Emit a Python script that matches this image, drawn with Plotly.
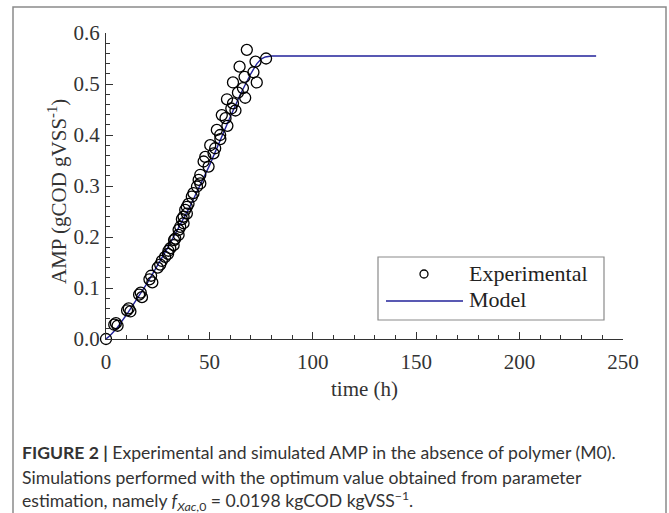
import plotly.graph_objects as go

# ---------------- data ----------------
exp_time = [0.0, 4.0, 4.8, 5.6, 10.2, 11.0, 11.8, 16.0, 16.8, 17.4, 21.0, 21.8, 22.4,
            25.0, 26.2, 27.0, 28.6, 30.0, 30.2, 31.1, 32.7, 32.9, 33.5, 35.1, 35.1,
            35.9, 36.7, 37.5, 37.5, 38.3, 39.1, 39.1, 39.9, 41.5, 42.3, 44.0, 45.6,
            44.8, 45.6, 47.2, 48.0, 49.6, 50.4, 52.0, 52.8, 53.6, 55.2, 56.0, 55.3,
            57.8, 58.7, 58.5, 60.6, 61.4, 62.6, 61.4, 63.8, 64.6, 66.2, 67.0, 67.3,
            68.1, 71.3, 72.3, 72.9, 77.4]
exp_amp = [0.000, 0.028, 0.031, 0.026, 0.056, 0.060, 0.054, 0.087, 0.091, 0.082, 0.117, 0.124, 0.111,
           0.140, 0.146, 0.153, 0.161, 0.167, 0.173, 0.178, 0.184, 0.194, 0.197, 0.204, 0.214,
           0.220, 0.235, 0.227, 0.240, 0.253, 0.246, 0.259, 0.265, 0.279, 0.286, 0.299, 0.305,
           0.312, 0.322, 0.348, 0.357, 0.338, 0.380, 0.364, 0.374, 0.410, 0.400, 0.439, 0.392,
           0.433, 0.418, 0.470, 0.452, 0.462, 0.448, 0.503, 0.483, 0.534, 0.492, 0.514, 0.473,
           0.567, 0.523, 0.544, 0.503, 0.550]

model_time = [0, 2, 5, 10, 20, 30, 40, 50, 60, 65, 70, 73, 75, 77, 80, 100, 237]
model_amp = [0.0, 0.007, 0.020, 0.048, 0.110, 0.180, 0.255, 0.340, 0.435, 0.480, 0.520,
             0.540, 0.549, 0.553, 0.555, 0.555, 0.555]

x_ticks = [0, 50, 100, 150, 200, 250]
y_ticks = [0.0, 0.1, 0.2, 0.3, 0.4, 0.5, 0.6]

# ---------------- layout geometry ----------------
W, H = 669, 513
L, R, T, B = 106, 46, 33, 174
PW, PH = W - L - R, H - T - B


def px(x, y):
    """pixel -> paper coordinates"""
    return (x - L) / PW, (H - B - y) / PH


SERIF = "Liberation Serif, Times New Roman, serif"
CAP = "Lato, Liberation Sans, sans-serif"
FS = 21

fig = go.Figure()
fig.add_trace(go.Scatter(
    x=model_time, y=model_amp, mode="lines", name="Model",
    line=dict(color="#22229a", width=1.4), showlegend=False, cliponaxis=False))
fig.add_trace(go.Scatter(
    x=exp_time, y=exp_amp, mode="markers", name="Experimental",
    marker=dict(symbol="circle-open", size=11, color="black", line=dict(width=1.3)),
    showlegend=False, cliponaxis=False))

axis_common = dict(
    showgrid=False, zeroline=False, showline=True, linecolor="#333", linewidth=1.3,
    ticks="inside", ticklen=7, tickwidth=1.2, tickcolor="#333",
    tickfont=dict(family=SERIF, size=FS, color="#333"),
)
fig.update_xaxes(range=[0, 250], tickvals=x_ticks, ticktext=[str(v) for v in x_ticks],
                 minor=dict(ticks="inside", ticklen=4, tickwidth=1, tickcolor="#333", dtick=10),
                 ticklabelstandoff=4, **axis_common)
fig.update_yaxes(range=[0, 0.6], tickvals=y_ticks, ticktext=[f"{v:.1f}" for v in y_ticks],
                 minor=dict(ticks="inside", ticklen=4, tickwidth=1, tickcolor="#333", dtick=0.02),
                 ticklabelstandoff=1, **axis_common)

shapes = []
annotations = []

# outer frame
fx0, fy0 = px(13, 7)
fx1, fy1 = px(666, 530)
shapes.append(dict(type="rect", xref="paper", yref="paper", x0=fx0, y0=fy1, x1=fx1, y1=fy0,
                   line=dict(color="#8a8a8a", width=1.5), layer="below"))

# legend box
lx0, ly0 = px(378, 257)
lx1, ly1 = px(604, 320)
shapes.append(dict(type="rect", xref="paper", yref="paper", x0=lx0, y0=ly1, x1=lx1, y1=ly0,
                   line=dict(color="#8a8a8a", width=1.2), fillcolor="white"))
# legend marker
mx, my = px(424, 274)
shapes.append(dict(type="circle", xref="paper", yref="paper", xsizemode="pixel", ysizemode="pixel",
                   xanchor=mx, yanchor=my, x0=-4, x1=4, y0=-4, y1=4,
                   line=dict(color="black", width=1.3)))
# legend line
ax0, ay = px(386, 301)
ax1, _ = px(463, 301)
shapes.append(dict(type="line", xref="paper", yref="paper", x0=ax0, x1=ax1, y0=ay, y1=ay,
                   line=dict(color="#22229a", width=1.4)))
for txt, yy in [("Experimental", 273), ("Model", 299)]:
    tx, ty = px(467, yy)
    annotations.append(dict(text=txt, xref="paper", yref="paper", x=tx, y=ty, xanchor="left",
                            yanchor="middle", showarrow=False,
                            font=dict(family=SERIF, size=22, color="#222")))

# axis titles
tx, ty = px(364, 389)
annotations.append(dict(text="time (h)", xref="paper", yref="paper", x=tx, y=ty,
                        xanchor="center", yanchor="middle", showarrow=False,
                        font=dict(family=SERIF, size=FS, color="#333")))
tx, ty = px(58, 192)
annotations.append(dict(text="AMP (gCOD gVSS<sup>-1</sup>)", xref="paper", yref="paper", x=tx, y=ty,
                        xanchor="center", yanchor="middle", showarrow=False, textangle=-90,
                        font=dict(family=SERIF, size=FS, color="#333")))

# caption
cap_lines = [
    "<b>FIGURE 2 |</b> Experimental and simulated AMP in the absence of polymer (M0).",
    "Simulations performed with the optimum value obtained from parameter",
    "estimation, namely <i>f</i><sub><i>Xac</i>,0</sub> = 0.0198 kgCOD kgVSS<sup>\u22121</sup>.",
]
for line, yy in zip(cap_lines, [452, 477, 501]):
    tx, ty = px(20, yy)
    annotations.append(dict(text=line, xref="paper", yref="paper", x=tx, y=ty,
                            xanchor="left", yanchor="middle", showarrow=False,
                            font=dict(family=CAP, size=17.6, color="#333")))

fig.update_layout(
    width=W, height=H, margin=dict(l=L, r=R, t=T, b=B),
    paper_bgcolor="white", plot_bgcolor="white",
    shapes=shapes, annotations=annotations, showlegend=False,
)

fig.write_html("out.html")
